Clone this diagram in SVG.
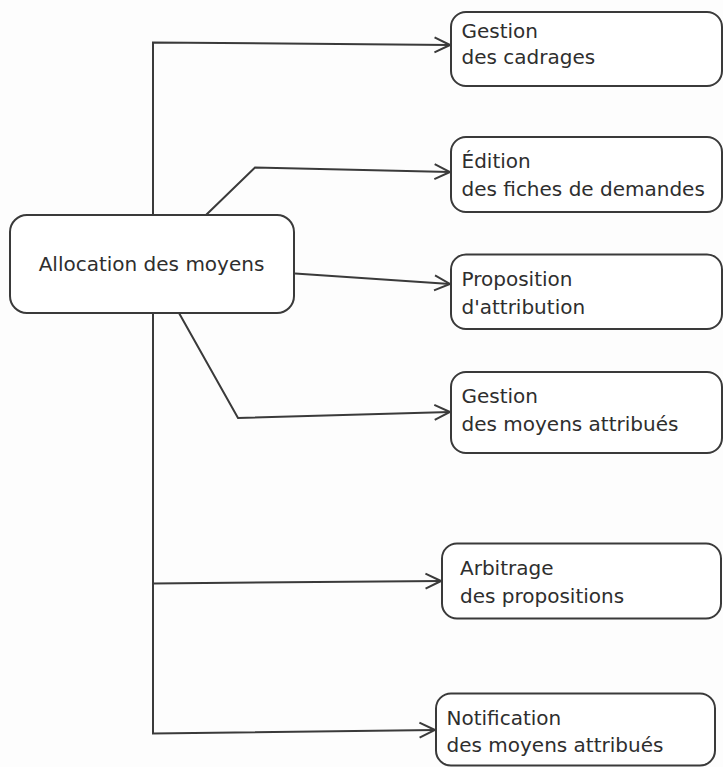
<svg xmlns="http://www.w3.org/2000/svg" width="723" height="767" viewBox="0 0 723 767">
<defs>
<style>
.box{fill:#ffffff;stroke:#3a3a3a;stroke-width:2}
.lbl{font-family:"DejaVu Sans","Liberation Sans",sans-serif;font-size:20px;fill:#2e2e2e}
.con{fill:none;stroke:#3a3a3a;stroke-width:2;stroke-linejoin:miter}
</style>
<marker id="arr" viewBox="0 0 18 18" refX="16.5" refY="9" markerWidth="18" markerHeight="18" markerUnits="userSpaceOnUse" orient="auto">
<path d="M1,1.5 L16.5,9 L1,16.5" fill="none" stroke="#3a3a3a" stroke-width="2"/>
</marker>
</defs>
<rect width="723" height="767" fill="#fdfdfd"/>
<g id="connectors">
<path class="con" d="M153,215 L153,42.5 L450,45" marker-end="url(#arr)"/>
<path class="con" d="M206,215 L255,167.5 L450,172" marker-end="url(#arr)"/>
<path class="con" d="M295,273.5 L450,284" marker-end="url(#arr)"/>
<path class="con" d="M179,313 L238,418 L450,412" marker-end="url(#arr)"/>
<path class="con" d="M153,313 L153,733.5 L435,730" marker-end="url(#arr)"/>
<path class="con" d="M153,583.5 L441,581" marker-end="url(#arr)"/>
</g>
<g id="allocation">
<rect class="box" x="10" y="215" width="284" height="98" rx="17"/>
<text class="lbl" x="151.5" y="271" text-anchor="middle">Allocation des moyens</text>
</g>
<g id="cadrages">
<rect class="box" x="451" y="12" width="271" height="74" rx="15"/>
<text class="lbl" x="461.5" y="37.5">Gestion</text>
<text class="lbl" x="461.5" y="64">des cadrages</text>
</g>
<g id="edition">
<rect class="box" x="451" y="137" width="271" height="75" rx="15"/>
<text class="lbl" x="461.5" y="168">Édition</text>
<text class="lbl" x="461.5" y="196">des fiches de demandes</text>
</g>
<g id="proposition">
<rect class="box" x="451" y="254.5" width="271" height="74.5" rx="15"/>
<text class="lbl" x="461.5" y="285.5">Proposition</text>
<text class="lbl" x="461.5" y="314">d'attribution</text>
</g>
<g id="gestion-moyens">
<rect class="box" x="451" y="372" width="271" height="81" rx="15"/>
<text class="lbl" x="461.5" y="403">Gestion</text>
<text class="lbl" x="461.5" y="431">des moyens attribués</text>
</g>
<g id="arbitrage">
<rect class="box" x="442" y="543.5" width="279" height="75" rx="15"/>
<text class="lbl" x="460" y="575">Arbitrage</text>
<text class="lbl" x="460" y="602.5">des propositions</text>
</g>
<g id="notification">
<rect class="box" x="436" y="693.5" width="279" height="72" rx="15"/>
<text class="lbl" x="446.5" y="725">Notification</text>
<text class="lbl" x="446.5" y="752">des moyens attribués</text>
</g>
</svg>
